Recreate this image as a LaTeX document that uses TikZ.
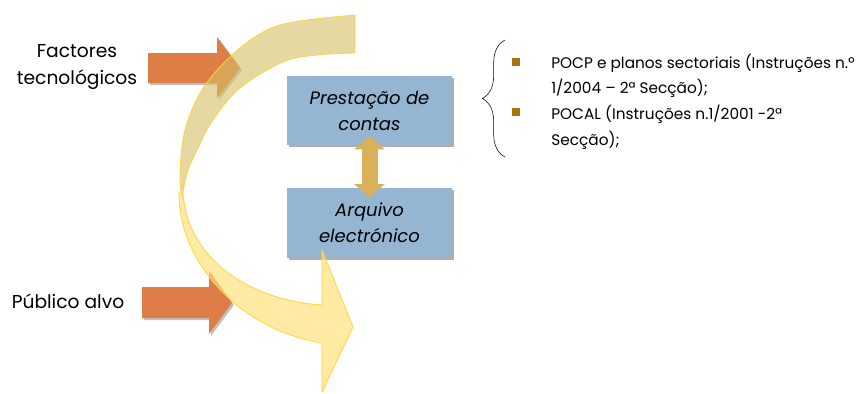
\documentclass[tikz,border=0pt]{standalone}
\usepackage{fontspec}
\setmainfont{Poppins}
\usetikzlibrary{arrows.meta,shadows,decorations.pathreplacing,positioning}

\definecolor{boxblue}{RGB}{148,182,210}
\definecolor{pushorange}{RGB}{222,126,70}
\definecolor{ribbontan}{RGB}{212,190,100}
\definecolor{ribbonyellow}{RGB}{255,224,115}
\definecolor{ribbonline}{RGB}{255,212,60}
\definecolor{linkgold}{RGB}{216,177,90}
\definecolor{bulletgold}{RGB}{166,117,20}

\tikzset{
	sidetext/.style={font=\fontsize{14}{20}\selectfont, align=center, inner sep=0pt},
	infobox/.style={fill=boxblue, minimum width=123.75pt, minimum height=52pt, align=center,
		font=\fontsize{13.5}{19.5}\selectfont\itshape,
		drop shadow={shadow xshift=1.5pt, shadow yshift=-1.5pt, opacity=0.45, fill=black!70}},
	pusharrow/.style={fill=pushorange, drop shadow={shadow xshift=1.5pt, shadow yshift=-1.5pt, opacity=0.35, fill=black!70}},
	ribbon/.style={draw=ribbonline, line width=0.6pt, line join=round},
	linkarrow/.style={draw=linkgold, line width=12pt, {Triangle[width=22.5pt,length=10pt]}-{Triangle[width=22.5pt,length=10pt]}},
	bullet/.style={fill=bulletgold, minimum size=6pt, inner sep=0pt},
	itemtext/.style={font=\fontsize{11.5}{19}\selectfont, align=left, anchor=north west, inner sep=0pt}
}

\begin{document}
\begin{tikzpicture}[x=0.75pt, y=-0.75pt]
	%%%%% START %%%%%
	\useasboundingbox (0,0) rectangle (866,393);
	
	% pushing arrows
	\fill[pusharrow] (148,53) -- (217,53) -- (217,37) -- (240,68) -- (217,98) -- (217,83) -- (148,83) -- cycle;
	\fill[pusharrow] (142,287) -- (209,287) -- (209,271) -- (232,303) -- (209,334) -- (209,318) -- (142,318) -- cycle;
	
	\node[sidetext] (factores) at (77,67) {Factores\\tecnológicos};
	\node[sidetext] (publico) at (68,301) {Público alvo};
	
	% boxes
	\node[infobox] (prest) at (369.5,110.5) {Prestação de\\contas};
	\node[infobox, below=32pt of prest] (arq) {Arquivo\\electrónico};
	
	% ribbon, back side
	\filldraw[ribbon, fill=ribbontan, fill opacity=0.6]
		plot[smooth, tension=0.6] coordinates {(355,15) (300,21) (267,30) (232,55) (202,90) (185,130) (180,173) (182,198)}
		-- plot[smooth, tension=0.6] coordinates {(182,198) (187,173) (197,150) (213,120) (240,88) (283,62) (317,55) (355,53)}
		-- cycle;
	% ribbon, front side with head
	\filldraw[ribbon, fill=ribbonyellow, fill opacity=0.65] (183,192) .. controls (186,255) and (245,300) .. (322,305)
		-- (322,250) -- (353,327) -- (322,392) -- (322,343)
		.. controls (240,330) and (178,262) .. (179,192) -- cycle;
	
	\draw[linkarrow, shorten <=-7pt, shorten >=-7pt] (prest.south) -- (arq.north);
	
	% list
	\draw[decorate, decoration={brace, amplitude=17pt}] (505,157) -- (505,40);
	\node[bullet] (b1) at (515.5,61.5) {};
	\node[bullet] (b2) at (515.5,112) {};
	\node[itemtext] (item1) at (551,54) {POCP e planos sectoriais (Instruções n.º\\1/2004 – 2ª Secção);};
	\node[itemtext] (item2) at (551,105) {POCAL (Instruções n.1/2001 -2ª\\Secção);};
	
	%%%%% END %%%%%
\end{tikzpicture}
\end{document}
